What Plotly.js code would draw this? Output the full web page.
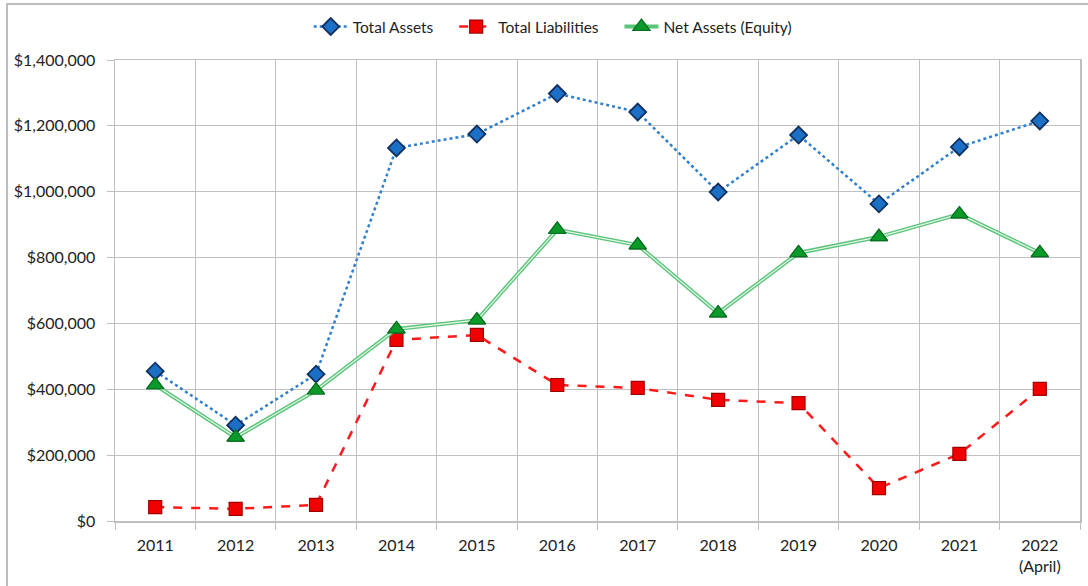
<!DOCTYPE html>
<html>
<head>
<meta charset="utf-8">
<script src="https://cdn.plot.ly/plotly-3.0.1.min.js"></script>
<style>
html,body{margin:0;padding:0;background:#fff;}
#chart{position:absolute;left:0;top:0;width:1088px;height:586px;}
#frame{position:absolute;left:6px;top:3px;width:1200px;height:700px;border:2px solid #bdbdbd;pointer-events:none;}
</style>
</head>
<body>
<div id="chart"></div>
<div id="frame"></div>
<script>
const years = ["2011","2012","2013","2014","2015","2016","2017","2018","2019","2020","2021","2022<br>(April)"];
const totalAssets = [455000, 291000, 446000, 1133000, 1175000, 1298000, 1242000, 999000, 1172000, 963000, 1136000, 1215000];
const totalLiabilities = [42000, 37000, 49000, 550000, 565000, 413000, 404000, 368000, 358000, 100000, 204000, 401000];
const netAssets = [413000, 254000, 397000, 583000, 610000, 885000, 838000, 631000, 814000, 863000, 932000, 814000];
const yTicks = [0, 200000, 400000, 600000, 800000, 1000000, 1200000, 1400000];
const yTickText = yTicks.map(v => "$" + v.toLocaleString("en-US"));
const seriesNames = ["Total Assets", "Total Liabilities", "Net Assets (Equity)"];

const font = "Lato, 'Open Sans', sans-serif";
const pad = "\u00a0\u00a0\u00a0\u00a0";
const triMarker = {symbol: "triangle-up", size: 15, color: "#0a9a2a", line: {color: "#087020", width: 1.2}};

const traces = [
  {
    x: years, y: totalAssets, name: seriesNames[0] + pad, type: "scatter", mode: "lines+markers",
    line: {color: "#2f7fd0", width: 2.5, dash: "dot"},
    marker: {symbol: "diamond", size: 13, color: "#1b6fc4", line: {color: "#10305f", width: 1.8}}
  },
  {
    x: years, y: totalLiabilities, name: seriesNames[1] + pad, type: "scatter", mode: "lines+markers",
    line: {color: "#ff1a1a", width: 2.5, dash: "dash"},
    marker: {symbol: "square", size: 13, color: "#f00000", line: {color: "#a00000", width: 1.2}}
  },
  {
    x: years, y: netAssets, name: seriesNames[2], type: "scatter", mode: "lines+markers",
    line: {color: "#5cc47a", width: 4}, marker: triMarker
  },
  {
    x: years, y: netAssets, type: "scatter", mode: "lines", showlegend: false, hoverinfo: "skip",
    line: {color: "#e6f7ea", width: 1.2}
  },
  {
    x: years, y: netAssets, type: "scatter", mode: "markers", showlegend: false, hoverinfo: "skip",
    marker: triMarker
  }
];

const layout = {
  width: 1088, height: 586,
  margin: {l: 115, r: 8, t: 60, b: 65, autoexpand: false},
  paper_bgcolor: "#ffffff", plot_bgcolor: "#ffffff",
  font: {family: font, size: 16, color: "#222"},
  showlegend: true,
  legend: {orientation: "h", xref: "container", x: 0.508, xanchor: "center", yref: "container", y: 0.954, yanchor: "middle",
           font: {family: font, size: 15.5, color: "#222"}, traceorder: "normal", itemwidth: 34},
  xaxis: {
    type: "category", tickson: "boundaries", showgrid: true, gridcolor: "#c0c0c0", gridwidth: 1,
    showline: true, linecolor: "#bfbfbf", linewidth: 1.5, mirror: true,
    ticks: "outside", ticklen: 7, tickcolor: "#bfbfbf", ticklabelstandoff: 9,
    tickfont: {family: font, size: 16, color: "#222"}, range: [-0.5, 11.5], fixedrange: true, automargin: false
  },
  yaxis: {
    range: [0, 1400000], tickvals: yTicks, ticktext: yTickText,
    showgrid: true, gridcolor: "#c0c0c0", gridwidth: 1,
    showline: true, linecolor: "#bfbfbf", linewidth: 1.5, mirror: true,
    ticks: "outside", ticklen: 7, tickcolor: "#bfbfbf", zeroline: false, ticklabelstandoff: 8,
    tickfont: {family: font, size: 16, color: "#222"}, fixedrange: true, automargin: false
  }
};

Plotly.newPlot("chart", traces, layout, {displayModeBar: false, staticPlot: true});
</script>
</body>
</html>
